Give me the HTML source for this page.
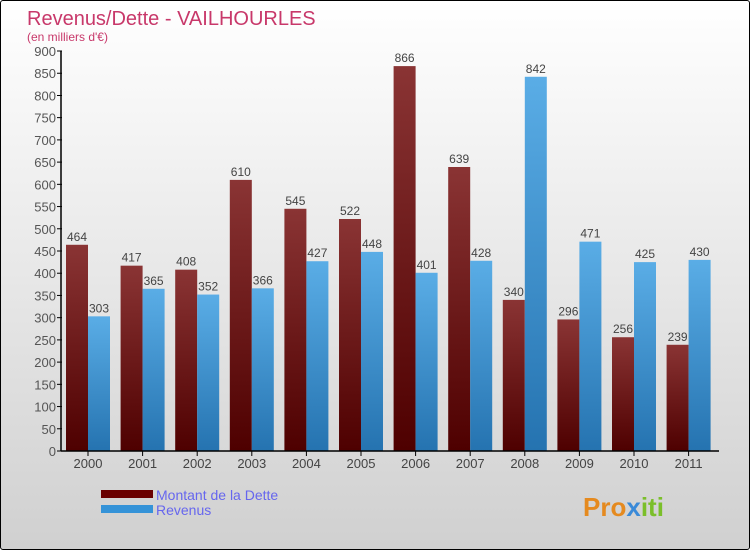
<!DOCTYPE html>
<html><head><meta charset="utf-8"><style>
body{margin:0}
#c{width:750px;height:550px;position:relative;overflow:hidden;box-sizing:border-box;border:1px solid #000;border-radius:3px;background:linear-gradient(#ffffff,#d0d0d0);font-family:"Liberation Sans",sans-serif}
</style></head><body>
<div id="c">
<svg id="s" width="750" height="550" style="position:absolute;left:0;top:0">
<defs>
<linearGradient id="gd" x1="0" x2="0" y1="0" y2="1"><stop offset="0" stop-color="#8a3434"/><stop offset="1" stop-color="#4e0000"/></linearGradient>
<linearGradient id="gr" x1="0" x2="0" y1="0" y2="1"><stop offset="0" stop-color="#5aade6"/><stop offset="1" stop-color="#2573b0"/></linearGradient>
</defs>
<text x="26" y="24" font-size="20" fill="#c8386a">Revenus/Dette - VAILHOURLES</text>
<text x="26" y="40" font-size="12" fill="#c8386a">(en milliers d'€)</text>
<g id="g"></g>
<rect x="100" y="489" width="52" height="8" fill="#6a0000"/>
<rect x="100" y="504" width="52" height="8" fill="#3593d8"/>
<text x="155" y="499" font-size="14" fill="#6666ee">Montant de la Dette</text>
<text x="155" y="514" font-size="14" fill="#6666ee">Revenus</text>
<text x="582" y="515" font-size="26" font-weight="bold" fill="#e58a1f">Pro<tspan fill="#3a8ad8">x</tspan><tspan fill="#7bbf2a">iti</tspan></text>
</svg>
</div>
<script>
const years=["2000","2001","2002","2003","2004","2005","2006","2007","2008","2009","2010","2011"];
const dette=[464,417,408,610,545,522,866,639,340,296,256,239];
const revenus=[303,365,352,366,427,448,401,428,842,471,425,430];
const ticks=[0,50,100,150,200,250,300,350,400,450,500,550,600,650,700,750,800,850,900];
const NS="http://www.w3.org/2000/svg";
const g=document.getElementById('g');
const y=v=>450-v*400/900;
const xc=i=>87+i*54.6;
function mk(t,a,txt){const e=document.createElementNS(NS,t);for(const k in a)e.setAttribute(k,a[k]);if(txt!=null)e.textContent=txt;g.appendChild(e);return e;}
ticks.forEach(t=>{
 const l=mk('line',{x1:56,x2:61,y1:y(t),y2:y(t),stroke:'#000'});
 
 
 const tx=mk('text',{x:55,y:y(t)+5,'font-size':13,fill:'#555','text-anchor':'end'},String(t));
 
 
});
years.forEach((yr,i)=>{
 const c=xc(i);
 const b1=mk('rect',{x:c-22,y:y(dette[i]),width:22,height:450-y(dette[i]),fill:'url(#gd)'});
 
 
 const b2=mk('rect',{x:c,y:y(revenus[i]),width:22,height:450-y(revenus[i]),fill:'url(#gr)'});
 
 
 const v1=mk('text',{x:c-11,y:y(dette[i])-4,'font-size':12,fill:'#444','text-anchor':'middle'},String(dette[i]));
 
 
 const v2=mk('text',{x:c+11,y:y(revenus[i])-4,'font-size':12,fill:'#444','text-anchor':'middle'},String(revenus[i]));
 
 
 const tk=mk('line',{x1:c,x2:c,y1:450,y2:455,stroke:'#000'});
 
 
 const xl=mk('text',{x:c,y:467,'font-size':13,fill:'#444','text-anchor':'middle'},yr);
 
 
});
const ax=mk('line',{x1:60,x2:60,y1:50,y2:450,stroke:'#000','stroke-width':1.5});


const bx=mk('line',{x1:60,x2:718,y1:450,y2:450,stroke:'#000','stroke-width':1.5});


</script>
</body></html>
